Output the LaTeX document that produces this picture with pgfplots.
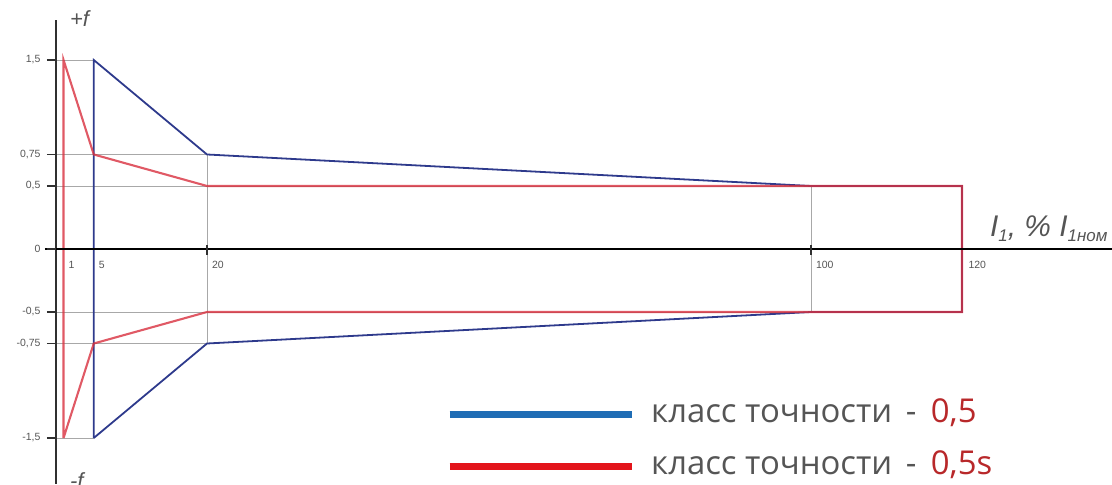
\documentclass[border=0pt]{standalone}
\usepackage{fontspec}
\setmainfont{Liberation Sans}
\newfontfamily\legfont{Open Sans}
\usepackage{pgfplots}
\pgfplotsset{compat=1.18}
\definecolor{navy}{HTML}{2E3A8C}
\definecolor{redl}{HTML}{D8303E}
\definecolor{gridg}{HTML}{A8A8A8}
\definecolor{legblue}{HTML}{1F6DB5}
\definecolor{legred}{HTML}{E3141B}
\definecolor{numred}{HTML}{B8282A}
\definecolor{txt}{HTML}{555555}
\definecolor{axg}{HTML}{303030}
\begin{document}
\begin{tikzpicture}
\begin{axis}[
  scale only axis, width=1112bp, height=484bp,
  xmin=-7.417, xmax=139.87, ymin=-1.865, ymax=1.976,
  hide axis, clip=false,
  legend cell align=left,
  legend style={draw=none, fill=none, at={(rel axis cs:0.3984,0.0909)}, anchor=west,
    font=\legfont\fontsize{33}{36}\selectfont, text=txt,
    nodes={inner sep=0pt, text height=24bp, text depth=8bp},
    row sep=20bp,
    /tikz/every odd column/.append style={column sep=16bp}},
  legend image code/.code={\draw[#1, line width=7bp] (0bp,0bp) -- (182bp,0bp);},
]
% grid guide lines
\addplot[gridg, line width=0.8bp, forget plot] coordinates {(0,1.5) (5,1.5)};
\addplot[gridg, line width=0.8bp, forget plot] coordinates {(0,-1.5) (5,-1.5)};
\addplot[gridg, line width=0.8bp, forget plot] coordinates {(0,0.75) (20,0.75)};
\addplot[gridg, line width=0.8bp, forget plot] coordinates {(0,-0.75) (20,-0.75)};
\addplot[gridg, line width=0.8bp, forget plot] coordinates {(0,0.5) (100,0.5)};
\addplot[gridg, line width=0.8bp, forget plot] coordinates {(0,-0.5) (100,-0.5)};
\addplot[gridg, line width=0.8bp, forget plot] coordinates {(20,0.75) (20,-0.75)};
\addplot[gridg, line width=0.8bp, forget plot] coordinates {(100,0.5) (100,-0.5)};
% class 0.5
\addplot[navy, line width=1.8bp, forget plot] coordinates {
  (5,-1.5) (5,1.5) (20,0.75) (100,0.5) (120,0.5) (120,-0.5) (100,-0.5) (20,-0.75) (5,-1.5)};
% class 0.5s
\addplot[redl, line width=2.1bp, opacity=0.8, forget plot] coordinates {
  (1,-1.5) (1,1.5) (5,0.75) (20,0.5) (120,0.5) (120,-0.5) (20,-0.5) (5,-0.75) (1,-1.5)};
% axes
\draw[axg, line width=2.4bp] (axis cs:0,1.817) -- (axis cs:0,-1.865);
\draw[black, line width=1.8bp] (axis cs:-1.46,0) -- (axis cs:139.87,0);
\foreach \yy in {1.5,0.75,0.5,0,-0.5,-0.75,-1.5}{
  \edef\tmp{\noexpand\draw[axg, line width=1.6bp] (axis cs:-1.2,\yy) -- (axis cs:0,\yy);}\tmp
}
\foreach \xx in {20,100}{
  \edef\tmp{\noexpand\draw[axg, line width=1.4bp] (axis cs:\xx,0.03) -- (axis cs:\xx,-0.05);}\tmp
}
% y tick labels
\node[anchor=east, text=txt, font=\fontsize{10.5}{11}\selectfont] at (axis cs:-1.6,1.5) {1,5};
\node[anchor=east, text=txt, font=\fontsize{10.5}{11}\selectfont] at (axis cs:-1.6,0.75) {0,75};
\node[anchor=east, text=txt, font=\fontsize{10.5}{11}\selectfont] at (axis cs:-1.6,0.5) {0,5};
\node[anchor=east, text=txt, font=\fontsize{10.5}{11}\selectfont] at (axis cs:-1.6,0) {0};
\node[anchor=east, text=txt, font=\fontsize{10.5}{11}\selectfont] at (axis cs:-1.6,-0.5) {-0,5};
\node[anchor=east, text=txt, font=\fontsize{10.5}{11}\selectfont] at (axis cs:-1.6,-0.75) {-0,75};
\node[anchor=east, text=txt, font=\fontsize{10.5}{11}\selectfont] at (axis cs:-1.6,-1.5) {-1,5};
% x tick labels
\node[anchor=north west, text=txt, font=\fontsize{10.5}{11}\selectfont] at (axis cs:1.2,-0.07) {1};
\node[anchor=north west, text=txt, font=\fontsize{10.5}{11}\selectfont] at (axis cs:5.2,-0.07) {5};
\node[anchor=north west, text=txt, font=\fontsize{10.5}{11}\selectfont] at (axis cs:20.2,-0.07) {20};
\node[anchor=north west, text=txt, font=\fontsize{10.5}{11}\selectfont] at (axis cs:100.2,-0.07) {100};
\node[anchor=north west, text=txt, font=\fontsize{10.5}{11}\selectfont] at (axis cs:120.4,-0.07) {120};
% axis names
\node[anchor=west, text=txt, font=\itshape\fontsize{22}{24}\selectfont] at (axis cs:1.4,1.83) {+f};
\node[anchor=west, text=txt, font=\itshape\fontsize{22}{24}\selectfont] at (axis cs:1.4,-1.84) {-f};
\node[anchor=base west, inner sep=0pt, text=txt, font=\itshape\fontsize{30}{32}\selectfont] at (axis cs:123.7,0.10)
  {I\raisebox{-0.3ex}{\fontsize{17}{18}\selectfont 1}, \% I\raisebox{-0.3ex}{\fontsize{17}{18}\selectfont 1ном}};
% legend
\addlegendimage{legblue}
\addlegendentry{класс точности\hspace{5bp} -\hspace{6bp} \textcolor{numred}{0,5}}
\addlegendimage{legred}
\addlegendentry{класс точности\hspace{5bp} -\hspace{6bp} \textcolor{numred}{0,5s}}
\end{axis}
\pgfresetboundingbox
\path (current axis.south west) rectangle (current axis.north east);
\end{tikzpicture}
\end{document}
